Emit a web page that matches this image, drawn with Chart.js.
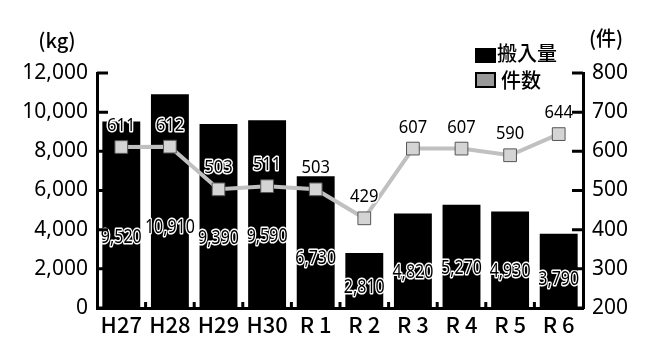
<!DOCTYPE html>
<html>
<head>
<meta charset="utf-8">
<script src="https://cdn.jsdelivr.net/npm/chart.js@4"></script>
<style>
  html, body { margin: 0; padding: 0; background: #fff; }
  #wrap { width: 649px; height: 340px; position: relative; }
</style>
</head>
<body>
<div id="wrap"><canvas id="chart" width="649" height="340"></canvas></div>
<script>
const years = ['H27', 'H28', 'H29', 'H30', 'R 1', 'R 2', 'R 3', 'R 4', 'R 5', 'R 6'];
const amountKg = [9520, 10910, 9390, 9590, 6730, 2810, 4820, 5270, 4930, 3790];
const cases = [611, 612, 503, 511, 503, 429, 607, 607, 590, 644];
const kgTicks = [0, 2000, 4000, 6000, 8000, 10000, 12000];
const caseTicks = [200, 300, 400, 500, 600, 700, 800];

const numFont = '"Noto Sans", sans-serif';
const jpFont = '"Noto Sans CJK JP", "Noto Sans", sans-serif';

function outlinedText(ctx, text, x, y, squeeze) {
    ctx.save();
    ctx.translate(x, y);
    ctx.scale(squeeze, 1);
    ctx.lineJoin = 'round';
    ctx.lineWidth = 3;
    ctx.strokeStyle = '#fff';
    ctx.strokeText(text, 0, 0);
    ctx.fillStyle = '#000';
    ctx.fillText(text, 0, 0);
    ctx.restore();
}

// inward tick marks, value labels, legend and unit titles
const decorations = {
    id: 'decorations',
    afterDatasetsDraw(chart) {
        const ctx = chart.ctx;
        ctx.save();
        ctx.textAlign = 'center';
        ctx.textBaseline = 'middle';

        // bar values
        ctx.font = '20px ' + numFont;
        chart.getDatasetMeta(1).data.forEach((bar, i) => {
            const y = bar.base - (bar.base - bar.y) * 0.38;
            outlinedText(ctx, amountKg[i].toLocaleString('en-US'), bar.x, y, 0.8);
        });

        // line values
        ctx.font = '18px ' + numFont;
        chart.getDatasetMeta(0).data.forEach((pt, i) => {
            outlinedText(ctx, String(cases[i]), pt.x, pt.y - 21, 0.92);
        });
        ctx.restore();
    },
    afterDraw(chart) {
        const ctx = chart.ctx;
        const area = chart.chartArea;
        const y = chart.scales.y;
        const y1 = chart.scales.y1;
        const x = chart.scales.x;
        ctx.save();
        ctx.strokeStyle = '#000';
        ctx.lineWidth = 3;
        ctx.beginPath();
        kgTicks.forEach(v => {
            const py = y.getPixelForValue(v);
            ctx.moveTo(area.left, py);
            ctx.lineTo(area.left + 11, py);
        });
        caseTicks.forEach(v => {
            const py = y1.getPixelForValue(v);
            ctx.moveTo(area.right - 11, py);
            ctx.lineTo(area.right, py);
        });
        for (let i = 0; i < years.length - 1; i++) {
            const px = (x.getPixelForValue(i) + x.getPixelForValue(i + 1)) / 2;
            ctx.moveTo(px, area.bottom);
            ctx.lineTo(px, area.bottom - 6);
        }
        ctx.stroke();

        // unit titles
        ctx.fillStyle = '#000';
        ctx.textBaseline = 'middle';
        ctx.textAlign = 'center';
        ctx.font = '500 20px ' + jpFont;
        ctx.fillText('(kg)', 57, 40);
        ctx.fillText('(件)', 606, 38);

        // legend
        ctx.fillStyle = '#000';
        ctx.fillRect(475, 48, 21, 15);
        ctx.fillStyle = '#999';
        ctx.fillRect(476, 73, 19, 14);
        ctx.lineWidth = 2;
        ctx.strokeRect(476, 73, 19, 14);
        ctx.fillStyle = '#000';
        ctx.textAlign = 'left';
        ctx.font = '500 20px ' + jpFont;
        ctx.fillText(chart.data.datasets[1].label, 497, 53);
        ctx.fillText(chart.data.datasets[0].label, 501, 80);
        ctx.restore();
    }
};

new Chart(document.getElementById('chart').getContext('2d'), {
    data: {
        labels: years,
        datasets: [
            {
                type: 'line',
                label: '件数',
                data: cases,
                yAxisID: 'y1',
                order: 0,
                borderColor: '#c0c0c0',
                borderWidth: 4,
                pointStyle: 'rect',
                pointRadius: 9,
                pointHoverRadius: 9,
                pointBackgroundColor: '#d4d4d4',
                pointBorderColor: '#555',
                pointBorderWidth: 1,
                tension: 0
            },
            {
                type: 'bar',
                label: '搬入量',
                data: amountKg,
                yAxisID: 'y',
                order: 1,
                backgroundColor: '#000',
                barPercentage: 0.78,
                categoryPercentage: 1
            }
        ]
    },
    options: {
        responsive: false,
        animation: false,
        layout: { padding: { top: 73, left: 0, right: 0, bottom: 0 } },
        plugins: {
            legend: { display: false },
            tooltip: { enabled: false }
        },
        scales: {
            x: {
                grid: { display: false, drawTicks: false },
                border: { display: true, color: '#000', width: 3 },
                ticks: { color: '#000', font: { family: jpFont, size: 22, weight: '500' }, padding: 3 },
                afterFit: s => { s.height = 32; }
            },
            y: {
                position: 'left',
                min: 0,
                max: 12000,
                grid: { display: false, drawTicks: false },
                border: { display: true, color: '#000', width: 3 },
                afterBuildTicks: s => { s.ticks = kgTicks.map(v => ({ value: v })); },
                ticks: {
                    color: '#000',
                    font: { family: numFont, size: 21 },
                    padding: 9,
                    callback: v => v.toLocaleString('en-US')
                },
                afterFit: s => { s.width = 97; }
            },
            y1: {
                position: 'right',
                min: 200,
                max: 800,
                grid: { display: false, drawTicks: false },
                border: { display: true, color: '#000', width: 3 },
                afterBuildTicks: s => { s.ticks = caseTicks.map(v => ({ value: v })); },
                ticks: {
                    color: '#000',
                    font: { family: numFont, size: 21 },
                    padding: 9
                },
                afterFit: s => { s.width = 66; }
            }
        }
    },
    plugins: [decorations]
});
</script>
</body>
</html>
